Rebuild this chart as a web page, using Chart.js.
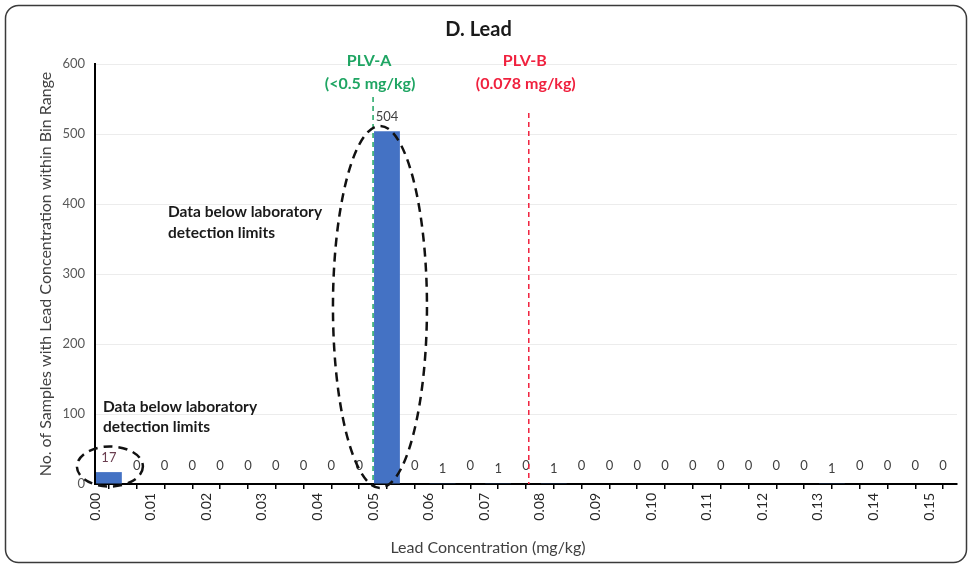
<!DOCTYPE html>
<html>
<head>
<meta charset="utf-8">
<script src="https://cdn.jsdelivr.net/npm/chart.js@4.4.1/dist/chart.umd.min.js"></script>
<style>
  html, body { margin: 0; padding: 0; background: #ffffff; }
  #wrap { position: relative; width: 972px; height: 567px; }
</style>
</head>
<body>
<div id="wrap"><canvas id="c" width="972" height="567"></canvas></div>
<script>
// ---- Data ----
const binStarts = [0.000, 0.005, 0.010, 0.015, 0.020, 0.025, 0.030, 0.035, 0.040, 0.045,
                   0.050, 0.055, 0.060, 0.065, 0.070, 0.075, 0.080, 0.085, 0.090, 0.095,
                   0.100, 0.105, 0.110, 0.115, 0.120, 0.125, 0.130, 0.135, 0.140, 0.145, 0.150];
const binWidth = 0.005;
const counts = [17, 0, 0, 0, 0, 0, 0, 0, 0, 0,
                504, 0, 1, 0, 1, 0, 1, 0, 0, 0,
                0, 0, 0, 0, 0, 0, 1, 0, 0, 0, 0];
const xTickLabels = ['0.00','0.01','0.02','0.03','0.04','0.05','0.06','0.07',
                     '0.08','0.09','0.10','0.11','0.12','0.13','0.14','0.15'];
const yTickValues = [0, 100, 200, 300, 400, 500, 600];
const plvA = { value: 0.05, label: ['PLV-A', '(<0.5 mg/kg)'] };
const plvB = { value: 0.078, label: ['PLV-B', '(0.078 mg/kg)'] };
const noteText = ['Data below laboratory', 'detection limits'];
const xTitle = 'Lead Concentration (mg/kg)';

const FONT = 'Lato, "Open Sans", sans-serif';

const points = binStarts.map((s, i) => ({ x: s + binWidth / 2, y: counts[i] }));

const frame = {
  id: 'frame',
  beforeDraw(chart) {
    const ctx = chart.ctx;
    ctx.save();
    ctx.fillStyle = '#ffffff';
    ctx.fillRect(0, 0, chart.width, chart.height);
    ctx.strokeStyle = '#3a3a3a';
    ctx.lineWidth = 1.5;
    ctx.beginPath();
    ctx.roundRect(5.5, 5.5, chart.width - 11, chart.height - 10, 13);
    ctx.stroke();
    ctx.restore();
  }
};

const overlay = {
  id: 'overlay',
  afterDatasetsDraw(chart) {
    const ctx = chart.ctx;
    const xs = chart.scales.x, ys = chart.scales.y;
    const area = chart.chartArea;
    const meta = chart.getDatasetMeta(0);
    ctx.save();

    // data labels
    ctx.font = '13px ' + FONT;
    ctx.textAlign = 'center';
    ctx.textBaseline = 'middle';
    meta.data.forEach((bar, i) => {
      const v = counts[i];
      ctx.fillStyle = i === 0 ? '#6a3d4f' : '#404040';
      const y = v === 0 ? bar.y - 18 : bar.y - 14;
      ctx.fillText(String(v), bar.x, y);
    });

    // PLV lines
    function plv(obj, color, topVal) {
      const x = xs.getPixelForValue(obj.value);
      ctx.strokeStyle = color;
      ctx.lineWidth = 1.5;
      ctx.setLineDash([5, 4]);
      ctx.beginPath();
      ctx.moveTo(x, ys.getPixelForValue(topVal));
      ctx.lineTo(x, area.bottom);
      ctx.stroke();
      ctx.setLineDash([]);
      ctx.fillStyle = color;
      ctx.font = 'bold 16px ' + FONT;
      ctx.fillText(obj.label[0], x - 4, 61);
      ctx.fillText(obj.label[1], x - 3, 84);
    }
    plv(plvA, '#1fa563', 553);
    plv(plvB, '#f0213e', 530);

    // dashed ellipses
    ctx.strokeStyle = '#111111';
    ctx.lineWidth = 2.5;
    ctx.setLineDash([9, 6]);
    const b0 = meta.data[0], b10 = meta.data[10];
    ctx.beginPath();
    ctx.ellipse(b0.x + 1, ys.getPixelForValue(25), 33, 20, 0, 0, Math.PI * 2);
    ctx.stroke();
    ctx.beginPath();
    ctx.ellipse(b10.x - 7, ys.getPixelForValue(253), 47, 181, 0, 0, Math.PI * 2);
    ctx.stroke();
    ctx.setLineDash([]);

    // notes
    ctx.fillStyle = '#1a1a1a';
    ctx.font = 'bold 15.5px ' + FONT;
    ctx.textAlign = 'left';
    ctx.fillText(noteText[0], 168, 212);
    ctx.fillText(noteText[1], 168, 233);
    ctx.fillText(noteText[0], 103, 407);
    ctx.fillText(noteText[1], 103, 427);

    // x axis title
    ctx.fillStyle = '#404040';
    ctx.font = '16px ' + FONT;
    ctx.textAlign = 'center';
    ctx.fillText(xTitle, 488, 548);
    ctx.restore();
  }
};

new Chart(document.getElementById('c'), {
  type: 'bar',
  data: {
    datasets: [{
      data: points,
      backgroundColor: '#4472C4',
      borderWidth: 0,
      barPercentage: 0.93,
      categoryPercentage: 1.0
    }]
  },
  options: {
    responsive: false,
    animation: false,
    layout: { padding: { left: 0, right: 15, top: 0, bottom: 0 } },
    plugins: {
      legend: { display: false },
      tooltip: { enabled: false },
      title: {
        display: true,
        text: 'D. Lead',
        color: '#1a1a1a',
        font: { family: FONT, size: 20, weight: 'bold' },
        padding: { top: 18, bottom: 22 }
      }
    },
    scales: {
      x: {
        type: 'linear',
        min: 0,
        max: 0.155,
        offset: false,
        afterBuildTicks(scale) {
          const t = [];
          binStarts.forEach(s => t.push({ value: s }));
          t.push({ value: binStarts[binStarts.length - 1] + binWidth });
          scale.ticks = t;
        },
        afterFit(scale) {
          scale.height = 83;
          scale.paddingRight = 0;
          scale.paddingLeft = 0;
        },
        ticks: {
          autoSkip: false,
          minRotation: 90,
          maxRotation: 90,
          padding: 4,
          color: '#262626',
          font: { family: FONT, size: 14 },
          callback(value) {
            const lbl = value.toFixed(2);
            const exact = Math.abs(value * 100 - Math.round(value * 100)) < 1e-6;
            return exact && xTickLabels.includes(lbl) ? lbl : '';
          }
        },
        grid: { display: true, drawOnChartArea: false, drawTicks: true, tickLength: 5, color: '#000000', lineWidth: 1.5 },
        border: { display: true, color: '#000000', width: 2 },
        title: { display: false }
      },
      y: {
        min: 0,
        max: 600,
        afterBuildTicks(scale) { scale.ticks = yTickValues.map(v => ({ value: v })); },
        afterFit(scale) { scale.width = 95; },
        ticks: {
          padding: 10,
          color: '#595959',
          font: { family: FONT, size: 13 }
        },
        grid: { color: '#ececec', lineWidth: 1, drawTicks: false },
        border: { display: true, color: '#000000', width: 2 },
        title: {
          display: true,
          text: 'No. of Samples with Lead Concentration within Bin Range',
          color: '#404040',
          font: { family: FONT, size: 16 },
          padding: { top: 36, bottom: 0 }
        }
      }
    }
  },
  plugins: [frame, overlay]
});
</script>
</body>
</html>
